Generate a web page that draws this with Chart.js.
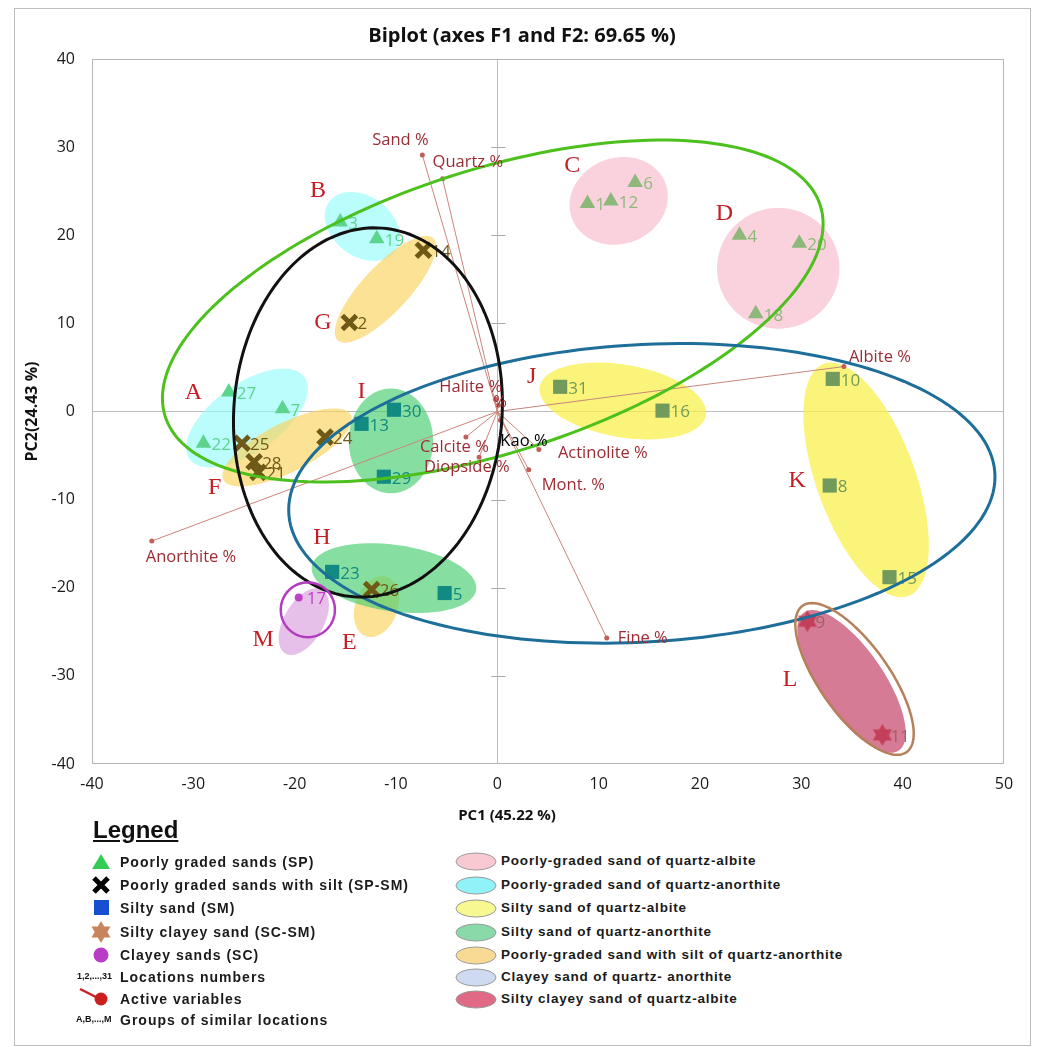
<!DOCTYPE html>
<html><head><meta charset="utf-8">
<script src="https://cdn.jsdelivr.net/npm/chart.js@4.4.1/dist/chart.umd.min.js"></script>
<style>
body{margin:0;background:#fff;}
#wrap{position:relative;width:1053px;height:1047px;overflow:hidden;background:#fff;font-family:"Liberation Sans",Arial,sans-serif;}
#frame{position:absolute;left:14px;top:8px;width:1017px;height:1038px;border:1px solid #bdbdbd;box-sizing:border-box;}
#c{position:absolute;left:0;top:0;}
#title{position:absolute;top:21px;left:222px;width:600px;text-align:center;font-family:"Open Sans",sans-serif;font-weight:bold;font-size:20px;color:#111;}
#xtitle{position:absolute;top:804px;left:357px;width:300px;text-align:center;font-family:"Open Sans",sans-serif;font-weight:bold;font-size:15px;color:#111;}
.lg{position:absolute;font-weight:bold;font-size:14px;letter-spacing:1px;color:#1a1a1a;white-space:nowrap;line-height:16px;}
.lr{font-size:13.5px;letter-spacing:0.8px;}
.ic{position:absolute;}
#lgt{position:absolute;left:93px;top:816px;font-weight:bold;font-size:24px;text-decoration:underline;color:#111;}
.sm{position:absolute;font-weight:bold;font-size:9px;color:#111;white-space:nowrap;}
</style></head>
<body>
<div id="wrap">
<div id="frame"></div>
<canvas id="c" width="1053" height="830"></canvas>
<div id="title">Biplot (axes F1 and F2: 69.65 %)</div>
<div id="xtitle">PC1 (45.22 %)</div>
<div id="lgt">Legned</div>
<div id="legend"></div>
</div>
<script>
// ---------- observations (PCA scores) ----------
const spAnorthiteIds = ['27','7','22','3','19'];
const spAnorthiteX = [-26.5,-21.2,-29.0,-15.5,-11.9];
const spAnorthiteY = [2.2,0.3,-3.6,21.5,19.6];
const spAlbiteIds = ['1','12','6','4','20','18'];
const spAlbiteX = [8.9,11.2,13.6,23.9,29.8,25.5];
const spAlbiteY = [23.6,23.9,26.0,20.0,19.1,11.1];
const spsmIds = ['14','2','24','25','28','21','26'];
const spsmX = [-7.3,-14.6,-17.0,-25.2,-24.0,-23.6,-12.4];
const spsmY = [18.3,10.1,-2.9,-3.6,-5.7,-6.9,-20.2];
const smAnorthiteIds = ['13','30','29','23','5'];
const smAnorthiteX = [-13.4,-10.2,-11.2,-16.3,-5.2];
const smAnorthiteY = [-1.4,0.2,-7.4,-18.2,-20.6];
const smAlbiteIds = ['31','16','10','8','15'];
const smAlbiteX = [6.2,16.3,33.1,32.8,38.7];
const smAlbiteY = [2.8,0.1,3.7,-8.4,-18.8];
const scsmIds = ['9','11'];
const scsmX = [30.6,38.0];
const scsmY = [-23.8,-36.7];
const scIds = ['17'];
const scX = [-19.6];
const scY = [-21.1];

// ---------- active variables (loadings) ----------
const varNames = ['Sand %','Quartz %','Albite %','Anorthite %','Fine %','Mont. %','Actinolite %','Calcite %','Diopside %','Kao.%','Halite %','%'];
const varX = [-7.4,-5.4,34.2,-34.1,10.8,3.1,4.1,-3.1,-1.8,0.3,-0.2,0.1];
const varY = [29.1,26.4,5.1,-14.7,-25.7,-6.6,-4.3,-2.9,-5.2,-1.0,1.4,0.7];

// ---------- groups (ellipses: centre, half-extent x/y, correlation) ----------
const groupNames = ['A','B','C','D','E','F','G','H','I','J','K','L','M'];
const groupCx  = [-24.7,-13.32,11.98,27.72,-11.93,-20.74,-11.04,-10.2,-10.5,12.38,36.39,34.95,-19.1];
const groupCy  = [-0.74,21.0,23.9,16.25,-22.14,-4.08,13.87,-18.91,-3.34,1.19,-7.76,-30.63,-23.84];
const groupRx  = [6.0,3.71,4.85,6.04,2.23,6.39,5.0,8.12,4.16,8.22,6.19,5.35,2.48];
const groupRy  = [5.6,3.91,4.98,6.85,3.45,4.42,6.06,3.96,5.95,4.36,13.31,8.1,3.79];
const groupRho = [0.6,-0.3,0.1,0,0.25,0.72,0.8,-0.28,0,-0.3,-0.56,-0.72,0.5];
const groupClass = ['cyan','cyan','pink','pink','orange','orange','orange','green','green','yellow','yellow','crimson','purple'];
const groupLabelX = [-30.0,-17.7,7.4,22.4,-14.6,-27.9,-17.2,-17.3,-13.4,3.4,29.6,28.9,-23.1];
const groupLabelY = [2.15,25.0,27.9,22.5,-26.2,-8.7,10.1,-14.3,2.2,4.0,-7.9,-30.4,-25.9];

// ---------- enclosing outlines ----------
const outlineNames = ['SP','SM','SP-SM','SC','SC-SM'];
const outlineCx  = [-0.45,14.26,-12.77,-18.7,35.25];
const outlineCy  = [11.4,-9.29,-0.11,-22.5,-30.35];
const outlineRx  = [32.6,34.85,13.27,2.67,5.84];
const outlineRy  = [19.4,17.0,20.95,3.11,8.61];
const outlineRho = [0.51,0.11,0.05,0,-0.72];

const xTicks = [-40,-30,-20,-10,0,10,20,30,40,50];
const yTicks = [-40,-30,-20,-10,0,10,20,30,40];

// ---------- styles ----------
const fillColors = {cyan:'rgba(150,250,250,0.65)',pink:'rgba(246,180,198,0.6)',orange:'rgba(250,210,90,0.65)',
  green:'rgba(70,205,110,0.65)',yellow:'rgba(248,240,70,0.72)',crimson:'rgba(195,60,100,0.68)',purple:'rgba(215,150,220,0.6)'};
const outlineColors = ['#4cc01c','#1e6e9a','#111111','#b23cc0','#b5805a'];
const outlineWidths = [3,3,3,2.5,2.5];

function makeStar(color,size){
  const c=document.createElement('canvas');c.width=size;c.height=size;
  const g=c.getContext('2d');g.fillStyle=color;const r=size/2;
  for(const rot of [0,Math.PI]){g.beginPath();
    for(let i=0;i<3;i++){const a=rot-Math.PI/2+i*2*Math.PI/3;const px=r+r*Math.cos(a),py=r+r*Math.sin(a);i?g.lineTo(px,py):g.moveTo(px,py);}
    g.closePath();g.fill();}
  return c;
}
const pts=(xs,ys)=>xs.map((x,i)=>({x,y:ys[i]}));

const pointSets = [
  {ids:spAnorthiteIds,xs:spAnorthiteX,ys:spAnorthiteY,style:'triangle',r:9,color:'#5dd48e',bw:0},
  {ids:spAlbiteIds,xs:spAlbiteX,ys:spAlbiteY,style:'triangle',r:9,color:'#8db87a',bw:0},
  {ids:spsmIds,xs:spsmX,ys:spsmY,style:'crossRot',r:10,color:'#6e5a16',bw:5},
  {ids:smAnorthiteIds,xs:smAnorthiteX,ys:smAnorthiteY,style:'rect',r:10,color:'#118a82',bw:0},
  {ids:smAlbiteIds,xs:smAlbiteX,ys:smAlbiteY,style:'rect',r:10,color:'#729a5c',bw:0},
  {ids:scsmIds,xs:scsmX,ys:scsmY,style:makeStar('#c4405a',22),r:11,color:'#c4405a',labelColor:'#a06068',bw:0},
  {ids:scIds,xs:scX,ys:scY,style:'circle',r:4,color:'#c040c8',bw:0}
];

const datasets=[];
pointSets.forEach(s=>{
  datasets.push({data:pts(s.xs,s.ys),pointStyle:s.style,pointRadius:s.r,pointBackgroundColor:s.color,
    pointBorderColor:s.color,pointBorderWidth:s.bw,order:0,ids:s.ids,labelColor:s.labelColor||s.color});
});
varNames.forEach((n,i)=>{
  datasets.push({data:[{x:0,y:0},{x:varX[i],y:varY[i]}],showLine:true,borderColor:'#c9857c',borderWidth:1,
    pointRadius:[0,2.5],pointBackgroundColor:'#c0605a',pointBorderWidth:0,order:1});
});

const varLabelLayout = {
  'Sand %':[-22,-15,'center'],'Quartz %':[-10,-17,'left'],'Albite %':[5,-9,'left'],'Anorthite %':[-6,16,'left'],
  'Fine %':[11,0,'left'],'Mont. %':[13,16,'left'],'Actinolite %':[19,4,'left'],'Calcite %':[-46,10,'left'],
  'Diopside %':[-55,10,'left'],'Kao.%':[0,21,'left'],'Halite %':[-56,-12,'left'],'%':[-5,-3,'left']
};

function ellipsePath(g,xs,ys,cx,cy,rx,ry,rho){
  const k=Math.sqrt(1-rho*rho);g.beginPath();
  for(let i=0;i<=180;i++){const t=i/180*2*Math.PI;
    const X=xs.getPixelForValue(cx+rx*Math.cos(t));
    const Y=ys.getPixelForValue(cy+ry*(rho*Math.cos(t)+k*Math.sin(t)));
    i?g.lineTo(X,Y):g.moveTo(X,Y);}
  g.closePath();
}

const drawPlugin={
  id:'biplotDecor',
  beforeDatasetsDraw(chart){
    const g=chart.ctx,xs=chart.scales.x,ys=chart.scales.y,a=chart.chartArea;
    g.save();
    g.strokeStyle='#b5b5b5';g.lineWidth=1;g.strokeRect(a.left+0.5,a.top+0.5,a.right-a.left-1,a.bottom-a.top-1);
    const x0=xs.getPixelForValue(0);g.strokeStyle='#aaaaaa';
    yTicks.forEach(v=>{if(v===0||v===40||v===-40)return;const y=Math.round(ys.getPixelForValue(v))+0.5;g.beginPath();g.moveTo(x0-6,y);g.lineTo(x0+8,y);g.stroke();});
    groupNames.forEach((n,i)=>{ellipsePath(g,xs,ys,groupCx[i],groupCy[i],groupRx[i],groupRy[i],groupRho[i]);
      g.fillStyle=fillColors[groupClass[i]];g.fill();});
    g.restore();
  },
  afterDatasetsDraw(chart){
    const g=chart.ctx,xs=chart.scales.x,ys=chart.scales.y;
    g.save();
    g.font='17px "Open Sans"';g.textBaseline='middle';g.textAlign='left';
    chart.data.datasets.forEach((d,di)=>{if(!d.ids)return;
      const meta=chart.getDatasetMeta(di);
      meta.data.forEach((el,i)=>{g.fillStyle=d.labelColor;g.fillText(d.ids[i],el.x+8,el.y+2);});
    });
    outlineNames.forEach((n,i)=>{ellipsePath(g,xs,ys,outlineCx[i],outlineCy[i],outlineRx[i],outlineRy[i],outlineRho[i]);
      g.strokeStyle=outlineColors[i];g.lineWidth=outlineWidths[i];g.stroke();});
    g.font='16.5px "Open Sans"';
    varNames.forEach((n,i)=>{const L=varLabelLayout[n];
      g.fillStyle=n==='Kao.%'?'#000':'#9b2c34';g.textAlign=L[2];
      g.fillText(n,xs.getPixelForValue(varX[i])+L[0],ys.getPixelForValue(varY[i])+L[1]);});
    g.font='24px "Liberation Serif"';g.fillStyle='#c41e24';g.textAlign='center';
    groupNames.forEach((n,i)=>g.fillText(n,xs.getPixelForValue(groupLabelX[i]),ys.getPixelForValue(groupLabelY[i])));
    g.restore();
  }
};

const gridColor=c=>(c.tick&&c.tick.value===0)?'#bdbdbd':'rgba(0,0,0,0)';
new Chart(document.getElementById('c'),{
  type:'scatter',
  data:{datasets},
  options:{
    responsive:false,animation:false,
    layout:{padding:{top:59,right:49,left:0,bottom:0}},
    plugins:{legend:{display:false},tooltip:{enabled:false},title:{display:false}},
    scales:{
      x:{type:'linear',min:-40,max:50,afterBuildTicks:s=>{s.ticks=xTicks.map(v=>({value:v}));},
        ticks:{font:{family:'Open Sans',size:16},color:'#1a1a1a',padding:11},
        grid:{color:gridColor,drawTicks:false},border:{display:false},afterFit:s=>{s.height=66;}},
      y:{type:'linear',min:-40,max:40,afterBuildTicks:s=>{s.ticks=yTicks.map(v=>({value:v}));},
        ticks:{font:{family:'Open Sans',size:16},color:'#1a1a1a',padding:17},
        grid:{color:gridColor,drawTicks:false},border:{display:false},
        title:{display:true,text:'PC2(24.43 %)',font:{family:'Open Sans',size:16,weight:'bold'},color:'#111',padding:{top:23,bottom:0}},
        afterFit:s=>{s.width=92;}}
    }
  },
  plugins:[drawPlugin]
});

// ---------- legend (HTML) ----------
const legendLeft = ['Poorly graded sands (SP)','Poorly graded sands with silt (SP-SM)','Silty sand (SM)','Silty clayey sand (SC-SM)','Clayey sands (SC)','Locations numbers','Active variables','Groups of similar locations'];
const legendRight = ['Poorly-graded sand of quartz-albite','Poorly-graded sand of quartz-anorthite','Silty sand of quartz-albite','Silty sand of quartz-anorthite','Poorly-graded sand with silt of quartz-anorthite','Clayey sand of quartz- anorthite','Silty clayey sand of quartz-albite'];
const legendRightColors = ['#f9c9d2','#8ff3f8','#f8f892','#8ad9a8','#f9da94','#cddaf0','#e06a86'];
const leftY=[862,885,908,932,955,977,999,1020];
const rightY=[861,885,908,932,955,977,999];
const icons=[
 '<svg width="20" height="18"><polygon points="10,1 19,16 1,16" fill="#33cc55"/></svg>',
 '<svg width="20" height="18"><path d="M3,2 L17,16 M17,2 L3,16" stroke="#000" stroke-width="5"/></svg>',
 '<svg width="20" height="18"><rect x="3" y="1" width="15" height="15" fill="#1650d0"/></svg>',
 '<svg width="22" height="22"><polygon points="11,0 20.5,16.5 1.5,16.5" fill="#c8845c"/><polygon points="11,22 20.5,5.5 1.5,5.5" fill="#c8845c"/></svg>',
 '<svg width="20" height="18"><circle cx="10" cy="9" r="7.5" fill="#b83cc8"/></svg>',
 null,
 '<svg width="34" height="22"><path d="M2,4 L22,14" stroke="#cc2020" stroke-width="2.5"/><circle cx="23" cy="14" r="6.5" fill="#cc2020"/></svg>',
 null
];
let html='';
legendLeft.forEach((t,i)=>{
  html+=`<div class="lg" style="left:120px;top:${leftY[i]-8}px">${t}</div>`;
  if(icons[i]){const h=i===3?22:(i===6?22:18);const w=i===6?34:(i===3?22:20);
    const lx=i===6?78:(i===3?90:91);const ty=i===6?leftY[i]-14:leftY[i]-h/2;
    html+=`<div class="ic" style="left:${lx}px;top:${ty}px;width:${w}px;height:${h}px">${icons[i]}</div>`;}
});
html+=`<div class="sm" style="left:77px;top:${977-6}px">1,2,...,31</div>`;
html+=`<div class="sm" style="left:76px;top:${1020-6}px">A,B,...,M</div>`;
legendRight.forEach((t,i)=>{
  html+=`<div class="ic" style="left:455px;top:${rightY[i]-9}px"><svg width="44" height="19"><ellipse cx="21" cy="9.5" rx="20" ry="8.5" fill="${legendRightColors[i]}" stroke="#9a9a9a" stroke-width="1"/></svg></div>`;
  html+=`<div class="lg lr" style="left:501px;top:${rightY[i]-8}px">${t}</div>`;
});
document.getElementById('legend').innerHTML=html;
</script>
</body></html>
